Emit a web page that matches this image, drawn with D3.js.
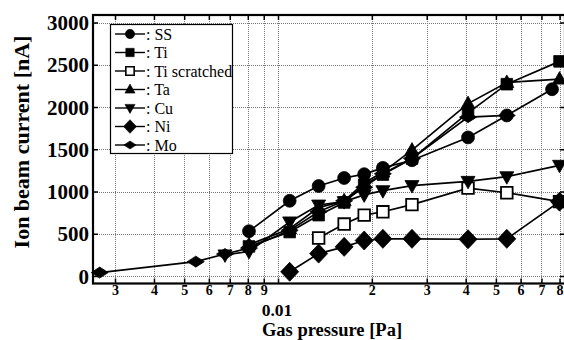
<!DOCTYPE html>
<html>
<head>
<meta charset="utf-8">
<script src="https://cdn.jsdelivr.net/npm/d3@7"></script>
<style>
  body { margin: 0; background: #fff; }
  svg { display: block; font-family: "Liberation Serif", "Times New Roman", serif; }
</style>
</head>
<body>
<svg id="chart" width="564" height="340"></svg>
<script>
// gas pressure [Pa] vs ion beam current [nA]
var seriesNames = ["SS", "Ti", "Ti scratched", "Ta", "Cu", "Ni", "Mo"];
var SS = [[0.00807,530],[0.0109,890],[0.0135,1065],[0.0163,1160],[0.0189,1205],[0.0217,1280],[0.0269,1370],[0.0407,1640],[0.0542,1900],[0.0757,2210]];
var Ti = [[0.00807,350],[0.0109,520],[0.0135,720],[0.0163,870],[0.0189,1080],[0.0217,1200],[0.0269,1390],[0.0407,1930],[0.0542,2270],[0.080,2540]];
var TiScratched = [[0.0135,450],[0.0163,615],[0.0189,720],[0.0217,760],[0.0269,845],[0.0407,1040],[0.0542,985],[0.080,880]];
var Ta = [[0.00807,370],[0.0109,560],[0.0135,810],[0.0163,890],[0.0189,1100],[0.0217,1230],[0.0269,1490],[0.0407,2040],[0.0542,2290],[0.080,2330]];
var Cu = [[0.00676,250],[0.00807,290],[0.0109,640],[0.0135,840],[0.0163,880],[0.0189,960],[0.0217,1010],[0.0269,1070],[0.0407,1120],[0.0542,1175],[0.080,1310]];
var Ni = [[0.0109,50],[0.0135,265],[0.0163,345],[0.0189,420],[0.0217,440],[0.0269,440],[0.0407,435],[0.0542,440],[0.080,880]];
var Mo = [[0.00268,40],[0.00545,170],[0.00676,260],[0.00807,330],[0.0109,540],[0.0135,760],[0.0163,890],[0.0189,1050],[0.0217,1210],[0.0269,1390],[0.0407,1880],[0.0542,1900]];

var xTicks = [0.003,0.004,0.005,0.006,0.007,0.008,0.009,0.01,0.02,0.03,0.04,0.05,0.06,0.07,0.08];
var xTickLabels = ["3","4","5","6","7","8","9","","2","3","4","5","6","7","8"];
var yTicks = [0,500,1000,1500,2000,2500,3000];

var allData = [SS, Ti, TiScratched, Ta, Cu, Ni, Mo];
var markers = ["circle", "square", "squareOpen", "triUp", "triDown", "diamond", "flatDiamond"];

var svg = d3.select("#chart");
var pLeft = 93, pRight = 565, pTop = 15, pBottom = 283.5;

var x = d3.scaleLog().domain([0.00255, 0.0833]).range([pLeft, pRight]);
var y = d3.scaleLinear().domain([-88.75, 3088.8]).range([pBottom, pTop]);

// grid
var grid = svg.append("g").attr("stroke", "#777").attr("stroke-width", 1).attr("stroke-dasharray", "1,1");
grid.selectAll(".gx").data(xTicks).enter().append("line")
  .attr("x1", d => Math.round(x(d)) + 0.5).attr("x2", d => Math.round(x(d)) + 0.5)
  .attr("y1", pTop).attr("y2", pBottom);
grid.selectAll(".gy").data(yTicks).enter().append("line")
  .attr("y1", d => Math.round(y(d)) + 0.5).attr("y2", d => Math.round(y(d)) + 0.5)
  .attr("x1", pLeft).attr("x2", pRight);

// axes
var xAxis = svg.append("g")
  .attr("transform", "translate(0," + pBottom + ")")
  .call(d3.axisBottom(x).tickValues(xTicks).tickSize(-5).tickPadding(2)
    .tickFormat((d, i) => xTickLabels[i]));
svg.append("g")
  .attr("transform", "translate(0," + pTop + ")")
  .call(d3.axisTop(x).tickValues(xTicks).tickSize(-5).tickFormat(""));
var yAxis = svg.append("g")
  .attr("transform", "translate(" + pLeft + ",0)")
  .call(d3.axisLeft(y).tickValues(yTicks).tickSize(-5).tickPadding(4).tickFormat(d3.format("d")));
svg.append("g")
  .attr("transform", "translate(" + pRight + ",0)")
  .call(d3.axisRight(y).tickValues(yTicks).tickSize(-5).tickFormat(""));

svg.selectAll(".domain").remove();
svg.selectAll(".tick line").attr("stroke", "#000").attr("stroke-width", 1.5);
xAxis.selectAll("text").attr("font-size", 14).attr("font-weight", "bold").attr("fill", "#000")
  .attr("font-family", "Liberation Serif");
yAxis.selectAll("text").attr("font-size", 21).attr("font-weight", "bold").attr("fill", "#000")
  .attr("font-family", "Liberation Serif").attr("dy", "0.34em");

svg.append("rect")
  .attr("x", pLeft).attr("y", pTop).attr("width", pRight - pLeft).attr("height", pBottom - pTop)
  .attr("fill", "none").attr("stroke", "#000").attr("stroke-width", 2.2);

// axis titles
svg.append("text").attr("x", x(0.01) - 1).attr("y", 315.5)
  .attr("text-anchor", "middle").attr("font-size", 17.5).attr("font-weight", "bold").text("0.01");
svg.append("text").attr("x", 332).attr("y", 336)
  .attr("text-anchor", "middle").attr("font-size", 18.5).attr("font-weight", "bold").text("Gas pressure [Pa]");
svg.append("text").attr("transform", "translate(29,142) rotate(-90)")
  .attr("text-anchor", "middle").attr("font-size", 22).attr("font-weight", "bold").text("Ion beam current [nA]");

function markerPath(type, s) {
  var h;
  switch (type) {
    case "circle": return d3.symbol(d3.symbolCircle, 130 * s * s)();
    case "square":
    case "squareOpen": h = 5.8 * s; return "M" + -h + "," + -h + "H" + h + "V" + h + "H" + -h + "Z";
    case "triUp": h = 7 * s; return "M0," + (-7.5 * s) + "L" + h + "," + (5 * s) + "L" + -h + "," + (5 * s) + "Z";
    case "triDown": h = 7 * s; return "M0," + (7.5 * s) + "L" + h + "," + (-5 * s) + "L" + -h + "," + (-5 * s) + "Z";
    case "diamond": return "M0," + (-9.5 * s) + "L" + (9 * s) + ",0L0," + (9.5 * s) + "L" + (-9 * s) + ",0Z";
    case "flatDiamond": return "M0," + (-5.5 * s) + "L" + (8.5 * s) + ",0L0," + (5.5 * s) + "L" + (-8.5 * s) + ",0Z";
  }
}

var line = d3.line().x(d => x(d[0])).y(d => y(d[1]));
var plot = svg.append("g");
allData.forEach((data, i) => {
  var g = plot.append("g");
  g.append("path").datum(data).attr("d", line)
    .attr("fill", "none").attr("stroke", "#000").attr("stroke-width", 1.7);
  g.selectAll("path.m").data(data).enter().append("path").attr("class", "m")
    .attr("transform", d => "translate(" + x(d[0]) + "," + y(d[1]) + ")")
    .attr("d", markerPath(markers[i], 1))
    .attr("fill", markers[i] == "squareOpen" ? "#fff" : "#000")
    .attr("stroke", "#000").attr("stroke-width", markers[i] == "squareOpen" ? 1.8 : 0.8);
});

// legend
var legend = svg.append("g");
legend.append("rect").attr("x", 110.5).attr("y", 24.5).attr("width", 122).attr("height", 129)
  .attr("fill", "#fff").attr("stroke", "#000").attr("stroke-width", 1.2);
seriesNames.forEach((name, i) => {
  var cy = 34 + i * 18.5;
  legend.append("line").attr("x1", 115).attr("x2", 145).attr("y1", cy).attr("y2", cy)
    .attr("stroke", "#000").attr("stroke-width", 1.4);
  legend.append("path").attr("transform", "translate(130," + cy + ")")
    .attr("d", markerPath(markers[i], 0.72))
    .attr("fill", markers[i] == "squareOpen" ? "#fff" : "#000")
    .attr("stroke", "#000").attr("stroke-width", markers[i] == "squareOpen" ? 1.6 : 0.6);
  legend.append("text").attr("x", 146).attr("y", cy + 5.5)
    .attr("font-size", 16).text(": " + name);
});
</script>
</body>
</html>
